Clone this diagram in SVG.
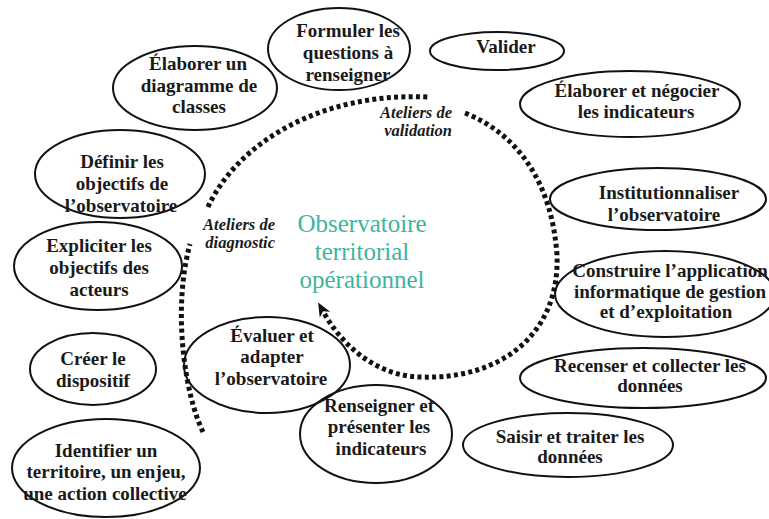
<svg xmlns="http://www.w3.org/2000/svg" width="769" height="519" viewBox="0 0 769 519">
<style>
.n ellipse{fill:none;stroke:#111;stroke-width:2}
.n text{font-family:"Liberation Serif","Times New Roman",serif;font-weight:bold;font-size:19px;fill:#1a1a1a;text-anchor:middle}
.lab{font-family:"Liberation Serif","Times New Roman",serif;font-weight:bold;font-style:italic;font-size:16.5px;fill:#1a1a1a;text-anchor:end}
.center{font-family:"Liberation Serif","Times New Roman",serif;font-size:25px;fill:#3db49d;text-anchor:middle}
.dot{fill:none;stroke:#111;stroke-width:5;stroke-dasharray:4 3.3}
</style>
<defs>
<marker id="ah" markerUnits="userSpaceOnUse" markerWidth="16" markerHeight="14" refX="2" refY="7" orient="auto">
<path d="M0,1 L14,7 L0,13 L4,7 Z" fill="#111"/>
</marker>
</defs>
<rect width="769" height="519" fill="#fff"/>

<g id="connectors">
<path class="dot" d="M203,432 C185,395 172,310 190,244"/>
<path class="dot" d="M208,207 C238,142 322,92 428,97"/>
<path class="dot" d="M465,113 C520,135 552,185 557,255 C560,335 500,380 420,377 C380,376 345,350 324,313" marker-end="url(#ah)"/>
</g>

<g id="center"><text class="center"><tspan x="362" y="232">Observatoire</tspan><tspan x="362" y="260">territorial</tspan><tspan x="362" y="288">opérationnel</tspan></text></g>

<g id="label-validation"><text class="lab"><tspan x="452" y="118">Ateliers de</tspan><tspan x="452" y="136">validation</tspan></text></g>
<g id="label-diagnostic"><text class="lab"><tspan x="275" y="230">Ateliers de</tspan><tspan x="275" y="248">diagnostic</tspan></text></g>

<g id="n-formuler" class="n"><ellipse cx="339" cy="49" rx="71" ry="41"/><text><tspan x="348" y="37">Formuler les</tspan><tspan x="348" y="59">questions à</tspan><tspan x="348" y="81">renseigner</tspan></text></g>
<g id="n-diagramme" class="n"><ellipse cx="195" cy="88" rx="82" ry="42"/><text><tspan x="198" y="70">Élaborer un</tspan><tspan x="199" y="92">diagramme de</tspan><tspan x="199" y="113">classes</tspan></text></g>
<g id="n-definir" class="n"><ellipse cx="120" cy="174" rx="85" ry="44"/><text><tspan x="122" y="168">Définir les</tspan><tspan x="122" y="190">objectifs de</tspan><tspan x="121" y="212">l’observatoire</tspan></text></g>
<g id="n-expliciter" class="n"><ellipse cx="98" cy="266" rx="84" ry="44"/><text><tspan x="99" y="252">Expliciter les</tspan><tspan x="99" y="274">objectifs des</tspan><tspan x="99" y="296">acteurs</tspan></text></g>
<g id="n-creer" class="n"><ellipse cx="93" cy="369" rx="63" ry="36"/><text><tspan x="93" y="365">Créer le</tspan><tspan x="93" y="387">dispositif</tspan></text></g>
<g id="n-identifier" class="n"><ellipse cx="106" cy="468" rx="94" ry="49"/><text><tspan x="106" y="457">Identifier un</tspan><tspan x="106" y="478">territoire, un enjeu,</tspan><tspan x="105" y="500">une action collective</tspan></text></g>
<g id="n-evaluer" class="n"><ellipse cx="267" cy="365" rx="83" ry="48"/><text><tspan x="272" y="342">Évaluer et</tspan><tspan x="272" y="363">adapter</tspan><tspan x="271" y="385">l’observatoire</tspan></text></g>
<g id="n-renseigner" class="n"><ellipse cx="376" cy="434" rx="76" ry="49"/><text><tspan x="379" y="412">Renseigner et</tspan><tspan x="379" y="433">présenter les</tspan><tspan x="381" y="455">indicateurs</tspan></text></g>
<g id="n-saisir" class="n"><ellipse cx="568" cy="445" rx="105" ry="32"/><text><tspan x="570" y="443">Saisir et traiter les</tspan><tspan x="570" y="463">données</tspan></text></g>
<g id="n-recenser" class="n"><ellipse cx="643" cy="378" rx="123" ry="30"/><text><tspan x="650" y="372">Recenser et collecter les</tspan><tspan x="650" y="392">données</tspan></text></g>
<g id="n-construire" class="n"><ellipse cx="665" cy="294" rx="110" ry="43"/><text><tspan x="670" y="277">Construire l’application</tspan><tspan x="670" y="298">informatique de gestion</tspan><tspan x="666" y="318">et d’exploitation</tspan></text></g>
<g id="n-institutionnaliser" class="n"><ellipse cx="658" cy="199" rx="108" ry="31"/><text><tspan x="669" y="199">Institutionnaliser</tspan><tspan x="664" y="221">l’observatoire</tspan></text></g>
<g id="n-negocier" class="n"><ellipse cx="630" cy="104" rx="110" ry="33"/><text><tspan x="637" y="97">Élaborer et négocier</tspan><tspan x="636" y="118">les indicateurs</tspan></text></g>
<g id="n-valider" class="n"><ellipse cx="497" cy="51" rx="67" ry="19"/><text><tspan x="506" y="53">Valider</tspan></text></g>
</svg>
